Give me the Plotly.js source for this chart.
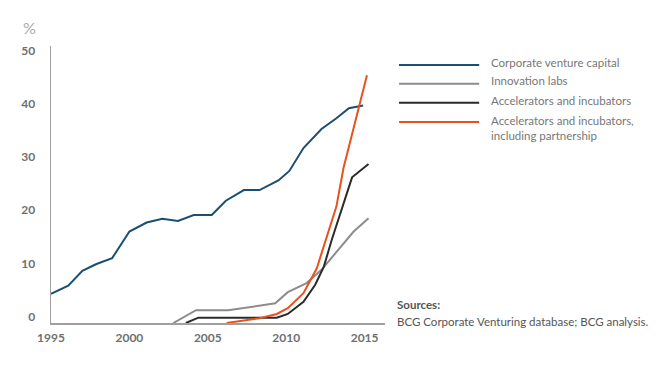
<!DOCTYPE html>
<html>
<head>
<meta charset="utf-8">
<script src="https://cdn.plot.ly/plotly-3.0.1.min.js"></script>
<style>html,body{margin:0;padding:0;background:#fff;}#chart{width:668px;height:381px;}</style>
</head>
<body>
<div id="chart"></div>
<script>
// Data (year, percent)
const cvcYears = [1995, 1996.1, 1997, 1997.9, 1998.9, 2000, 2001.1, 2002.1, 2003.1, 2004.1, 2005.25, 2006.15, 2007.3, 2008.3, 2009.5, 2010.2, 2011.1, 2012.25, 2013.2, 2014.0, 2014.9];
const cvcValues = [4.3, 5.8, 8.6, 9.9, 11.0, 16.0, 17.7, 18.4, 18.0, 19.1, 19.1, 21.8, 23.8, 23.8, 25.6, 27.4, 31.7, 35.3, 37.3, 39.2, 39.7];

const labsYears = [2002.8, 2004.25, 2006.3, 2009.3, 2010.1, 2011.3, 2012.25, 2014.3, 2015.25];
const labsValues = [-1.2, 1.2, 1.2, 2.5, 4.6, 6.3, 8.8, 16.0, 18.5];

const accYears = [2003.6, 2004.4, 2009.4, 2010.1, 2011.1, 2011.85, 2012.4, 2012.9, 2014.2, 2015.25];
const accValues = [-1.2, -0.2, -0.2, 0.5, 2.8, 6.0, 9.4, 14.4, 26.2, 28.7];

const accPartYears = [2006.2, 2008.3, 2009.4, 2010.1, 2011.1, 2011.95, 2013.2, 2013.65, 2015.15];
const accPartValues = [-1.2, -0.3, 0.5, 1.6, 4.4, 9.1, 20.7, 27.9, 45.4];

const seriesNames = ["Corporate venture capital", "Innovation labs", "Accelerators and incubators", "Accelerators and incubators,<br>including partnership"];
const seriesColors = ["#1b4f72", "#8c8c8c", "#2a2a2a", "#e8521c"];

const yTicks = [0, 10, 20, 30, 40, 50];
const xTicks = [1995, 2000, 2005, 2010, 2015];

const font = "Lato, 'Open Sans', sans-serif";

const xs = [cvcYears, labsYears, accYears, accPartYears];
const ys = [cvcValues, labsValues, accValues, accPartValues];
const traces = xs.map((x, i) => ({
  x: x, y: ys[i], type: "scatter", mode: "lines", name: seriesNames[i],
  line: {color: seriesColors[i], width: 2}, hoverinfo: "skip"
}));

// Manual legend (lines + labels) in paper coordinates
const legendY = [0.931, 0.864, 0.795, 0.726];
const shapes = [];
const annotations = [];
seriesNames.forEach((n, i) => {
  shapes.push({type: "line", xref: "paper", yref: "paper", x0: 1.042, x1: 1.282, y0: legendY[i], y1: legendY[i],
    line: {color: seriesColors[i], width: 2}});
  annotations.push({xref: "paper", yref: "paper", x: 1.311, y: i === 3 ? legendY[i] + 0.034 : legendY[i] + 0.01,
    xanchor: "left", yanchor: i === 3 ? "top" : "middle", align: "left", showarrow: false, text: n,
    font: {family: font, size: 11.5, color: "#777"}});
});
annotations.push({xref: "paper", yref: "paper", x: -0.063, y: 1.065, xanchor: "center", yanchor: "middle",
  showarrow: false, text: "%", font: {family: font, size: 16, color: "#aaa"}});
annotations.push({xref: "paper", yref: "paper", x: 1.03, y: 0.065, xanchor: "left", yanchor: "middle",
  showarrow: false, text: "<b>Sources:</b>", font: {family: font, size: 11.5, color: "#555"}});
annotations.push({xref: "paper", yref: "paper", x: 1.03, y: 0.007, xanchor: "left", yanchor: "middle",
  showarrow: false, text: "BCG Corporate Venturing database; BCG analysis.", font: {family: font, size: 11.5, color: "#555"}});

const layout = {
  width: 668, height: 381,
  margin: {l: 51, r: 283, t: 46, b: 58},
  paper_bgcolor: "#fff", plot_bgcolor: "#fff",
  showlegend: false,
  xaxis: {range: [1995, 2016.3], tickvals: xTicks, ticktext: xTicks.map(String), showgrid: false, zeroline: false,
    showline: true, linecolor: "#a0a0a0", linewidth: 1.5, ticks: "", ticklabelstandoff: 3,
    tickfont: {family: font, size: 12, color: "#707070", weight: "bold"}},
  yaxis: {range: [-1.2, 50.9], tickvals: yTicks, ticktext: yTicks.map(String), showgrid: false, zeroline: false,
    showline: true, linecolor: "#a0a0a0", linewidth: 1.5, ticks: "", ticklabelstandoff: 12,
    tickfont: {family: font, size: 12, color: "#707070", weight: "bold"}},
  shapes: shapes,
  annotations: annotations
};

Plotly.newPlot("chart", traces, layout, {staticPlot: true, displayModeBar: false});
</script>
</body>
</html>
